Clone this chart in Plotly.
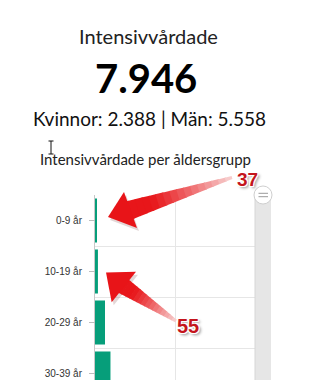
import plotly.graph_objects as go

# ---- data ----
categories = ["0-9 år", "10-19 år", "20-29 år", "30-39 år"]
values = [37, 55, 188, 290]
headline_title = "Intensivvårdade"
headline_value = "7.946"
headline_split = "Kvinnor: 2.388 | Män: 5.558"
chart_title = "Intensivvårdade per åldersgrupp"
callout_labels = ["37", "55"]

W, H = 332, 380


def X(px):
    return px / W


def Y(py):
    return 1 - py / H


def path(pts):
    return "M " + " L ".join(f"{X(x):.5f},{Y(y):.5f}" for x, y in pts) + " Z"


fig = go.Figure()
fig.add_trace(go.Bar(
    y=categories, x=values, orientation="h",
    marker=dict(color="#069e7a", line=dict(width=0)),
    hoverinfo="skip",
))

shapes = []

# tick marks at category centres
for c in categories:
    shapes.append(dict(type="line", xref="paper", yref="y",
                       x0=X(89), x1=X(95), y0=c, y1=c,
                       line=dict(color="#bdbdbd", width=1), layer="above"))

# scrollbar
shapes.append(dict(type="rect", xref="paper", yref="paper",
                   x0=X(255), x1=X(271), y0=Y(380), y1=Y(195),
                   fillcolor="#e6e6e6", line=dict(width=0), layer="above"))
shapes.append(dict(type="line", xref="paper", yref="paper",
                   x0=X(255), x1=X(255), y0=Y(380), y1=Y(195),
                   line=dict(color="#d6d6d6", width=1), layer="above"))
shapes.append(dict(type="circle", xref="paper", yref="paper",
                   x0=X(254), x1=X(272), y0=Y(204), y1=Y(186),
                   fillcolor="#ffffff", line=dict(color="#cfcfcf", width=1), layer="above"))
for yy in (193.3, 196.7):
    shapes.append(dict(type="line", xref="paper", yref="paper",
                       x0=X(258.5), x1=X(268), y0=Y(yy), y1=Y(yy),
                       line=dict(color="#9a9a9a", width=1), layer="above"))

# I-beam cursor
shapes.append(dict(type="line", xref="paper", yref="paper",
                   x0=X(51), x1=X(51), y0=Y(154), y1=Y(141),
                   line=dict(color="#111", width=1), layer="above"))
for yy in (141, 154):
    shapes.append(dict(type="line", xref="paper", yref="paper",
                       x0=X(48.5), x1=X(53.5), y0=Y(yy), y1=Y(yy),
                       line=dict(color="#111", width=1), layer="above"))


def arrow(tip, w1, w2, tail, hb, ht, n=16, shadow=(2, 3)):
    out = []
    mx, my = (w1[0] + w2[0]) / 2, (w1[1] + w2[1]) / 2
    sx, sy = mx + (tip[0] - mx) * 0.3, my + (tip[1] - my) * 0.3
    dx, dy = tail[0] - sx, tail[1] - sy
    L = (dx ** 2 + dy ** 2) ** 0.5
    nx, ny = -dy / L, dx / L
    sh = [(tip[0] + shadow[0], tip[1] + shadow[1]), (w1[0] + shadow[0], w1[1] + shadow[1]),
          (w2[0] + shadow[0], w2[1] + shadow[1])]
    out.append(dict(type="path", xref="paper", yref="paper", path=path(sh),
                    fillcolor="rgba(80,0,0,0.16)", line=dict(width=0), layer="above"))
    for i in range(n):
        t0, t1 = i / n, (i + 1) / n
        w0 = hb + (ht - hb) * t0
        te = min(t1 + 0.01, 1)
        w1e = hb + (ht - hb) * te
        p0 = (sx + dx * t0, sy + dy * t0)
        p1 = (sx + dx * te, sy + dy * te)
        pts = [(p0[0] + nx * w0, p0[1] + ny * w0), (p1[0] + nx * w1e, p1[1] + ny * w1e),
               (p1[0] - nx * w1e, p1[1] - ny * w1e), (p0[0] - nx * w0, p0[1] - ny * w0)]
        tm = (t0 + t1) / 2
        f = max(0.0, (tm - 0.25) / 0.75) ** 1.1
        r = int(232 + (248 - 232) * f)
        g = int(22 + (212 - 22) * f)
        b = int(26 + (212 - 26) * f)
        out.append(dict(type="path", xref="paper", yref="paper", path=path(pts),
                        fillcolor=f"rgb({r},{g},{b})", line=dict(width=0), layer="above"))
    out.append(dict(type="path", xref="paper", yref="paper", path=path([tip, w1, w2]),
                    fillcolor="rgb(232,20,24)", line=dict(width=0), layer="above"))
    return out


shapes += arrow((108, 217), (124, 192), (137, 228), (232, 177.5), 10, 1.5)
shapes += arrow((106, 272.5), (136, 271.7), (111.7, 302.3), (176, 321), 9, 1.5)

callout_shadow = ("1px 1px 0 #fff, -1px -1px 0 #fff, 1px -1px 0 #fff, -1px 1px 0 #fff, "
                  "2px 2px 3px rgba(0,0,0,0.45)")

annotations = [
    dict(text=headline_title, x=X(148), y=Y(35.5), xref="paper", yref="paper",
         showarrow=False, xanchor="center", yanchor="middle",
         font=dict(family="Lato", size=20, color="#222")),
    dict(text=f"<b>{headline_value}</b>", x=X(146), y=Y(77.5), xref="paper", yref="paper",
         showarrow=False, xanchor="center", yanchor="middle",
         font=dict(family="Lato", size=40, color="#000")),
    dict(text=headline_split, x=X(149), y=Y(118), xref="paper", yref="paper",
         showarrow=False, xanchor="center", yanchor="middle",
         font=dict(family="Lato", size=19, color="#111")),
    dict(text=chart_title, x=X(145), y=Y(158.5), xref="paper", yref="paper",
         showarrow=False, xanchor="center", yanchor="middle",
         font=dict(family="Lato", size=15, color="#222")),
    dict(text=f"<b>{callout_labels[0]}</b>", x=X(247.5), y=Y(180), xref="paper", yref="paper",
         showarrow=False, xanchor="center", yanchor="middle",
         font=dict(family="Liberation Sans", size=19, color="#c4151c", shadow=callout_shadow)),
    dict(text=f"<b>{callout_labels[1]}</b>", x=X(188.5), y=Y(326), xref="paper", yref="paper",
         showarrow=False, xanchor="center", yanchor="middle",
         font=dict(family="Liberation Sans", size=20, color="#c4151c", shadow=callout_shadow)),
]

fig.update_layout(
    width=W, height=H,
    margin=dict(l=0, r=0, t=0, b=0),
    paper_bgcolor="#ffffff", plot_bgcolor="rgba(0,0,0,0)",
    showlegend=False,
    bargap=0.137,
    shapes=shapes,
    annotations=annotations,
    xaxis=dict(domain=[X(95), X(255)], range=[0, 3000], tickvals=[0, 1500, 3000],
               showticklabels=False, showgrid=True, gridcolor="#e6e6e6", gridwidth=1,
               zeroline=False, ticks="", fixedrange=True),
    yaxis=dict(domain=[0, Y(195)], type="category", categoryorder="array",
               categoryarray=categories, range=[-0.5 + 185 / 51, -0.5],
               tickson="boundaries", ticks="", showgrid=True, gridcolor="#e6e6e6",
               showline=True, linecolor="#c8c8c8", linewidth=1, zeroline=False,
               tickfont=dict(family="Liberation Sans", size=10, color="#333"),
               ticklabelstandoff=10, fixedrange=True),
)

fig.write_html("out.html")
